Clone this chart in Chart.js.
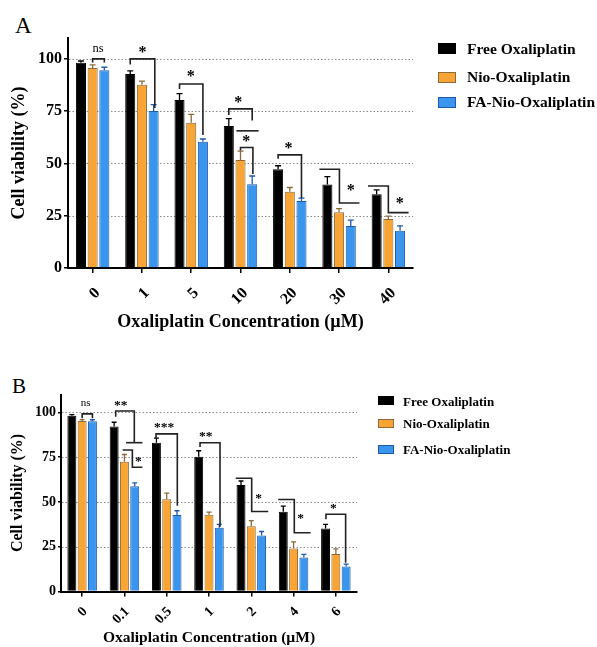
<!DOCTYPE html>
<html lang="en">
  <head>
    <meta charset="UTF-8" />
    <title>Cell viability vs Oxaliplatin</title>
    <script src="https://cdn.jsdelivr.net/npm/chart.js"></script>
    <style>
      body { margin: 0; background: #fff; }
      #wrap { position: relative; width: 597px; height: 647px; overflow: hidden; font-family: "Liberation Serif", "Times New Roman", serif; color: #000; }
      canvas { position: absolute; left: 0; }
      #chartA { top: 0; }
      #chartB { top: 360px; }
      .panel { position: absolute; line-height: 1; }
      .lg-sw { position: absolute; box-sizing: border-box; border: 1px solid; }
      .lg-tx { position: absolute; white-space: nowrap; font-weight: bold; line-height: 1; transform: translateY(-50%); }
    </style>
  </head>
  <body>
    <div id="wrap">
      <div class="panel" style="left:15px; top:14px; font-size:23px;">A</div>
      <div class="panel" style="left:12px; top:376px; font-size:21px;">B</div>
      <canvas id="chartA" width="597" height="340"></canvas>
      <canvas id="chartB" width="597" height="287"></canvas>
      <div id="legendA"></div>
      <div id="legendB"></div>
    </div>

    <script>
      // Series
      const groupLabels = ["Free Oxaliplatin", "Nio-Oxaliplatin", "FA-Nio-Oxaliplatin"];
      const fillColors = ["#000000", "#F8A535", "#3A95EE"];
      const edgeColors = ["#000000", "#8C6A3A", "#1E5AA8"];
      const yTicks = [0, 25, 50, 75, 100];

      // Panel A
      const concA = ["0", "1", "5", "10", "20", "30", "40"];
      const freeA = [98.2, 92.8, 80.4, 67.9, 47.2, 39.9, 35.3];
      const nioA = [95.6, 87.6, 69.5, 51.7, 36.5, 26.7, 23.4];
      const faA = [94.6, 75.1, 60.4, 40.0, 32.1, 20.1, 17.8];
      const freeAErr = [0.8, 1.5, 3.0, 3.5, 1.7, 3.8, 2.1];
      const nioAErr = [1.5, 1.8, 4.0, 4.2, 2.0, 1.7, 1.4];
      const faAErr = [1.4, 3.0, 1.3, 4.0, 1.3, 2.8, 2.3];

      // Panel B
      const concB = ["0", "0.1", "0.5", "1", "2", "4", "6"];
      const freeB = [98.2, 92.1, 83.1, 75.3, 59.5, 44.5, 35.2];
      const nioB = [95.2, 72.5, 51.5, 42.8, 36.4, 24.0, 20.9];
      const faB = [95.1, 58.7, 42.7, 35.6, 31.3, 19.0, 14.0];
      const freeBErr = [0.6, 2.4, 2.5, 3.3, 2.2, 3.2, 2.3];
      const nioBErr = [0.8, 4.0, 3.4, 1.5, 3.2, 3.7, 2.9];
      const faBErr = [0.8, 2.0, 2.4, 1.9, 2.2, 1.7, 1.3];

      // significance brackets: category index, [bar offset (orange = 0, blue = 1), value]
      const bracketsA = [
        { cat: 0, path: [[0, 98.3], [0, 100], [1, 100], [1, 98.3]] },
        { cat: 1, path: [[-1, 97.3], [-1, 100], [1.1, 100], [1.1, 76.5]] },
        { cat: 2, path: [[-1, 85.6], [-1, 88], [1, 88], [1, 63.6]] },
        { cat: 3, path: [[-1, 73.2], [-1, 76.1], [1, 76.1], [1, 70.6]] },
        { cat: 3, path: [[-0.35, 65.6], [1.55, 65.6]] },
        { cat: 3, path: [[0, 56.2], [0, 57.6], [1.06, 57.6], [1.06, 45]] },
        { cat: 4, path: [[-1, 52.2], [-1, 54.1], [1, 54.1], [1, 33.5]] },
        { cat: 5, path: [[-1.68, 47.2], [0.03, 47.2], [0.03, 31.1], [1.74, 31.1]] },
        { cat: 6, path: [[-1.74, 39.2], [0, 39.2], [0, 26.5], [1.73, 26.5]] },
      ];
      const starsA = [
        { cat: 0, text: "ns", at: [0.47, 104.5] },
        { cat: 1, text: "*", at: [0.05, 104.3] },
        { cat: 2, text: "*", at: [-0.05, 92.8] },
        { cat: 3, text: "*", at: [-0.2, 80.4] },
        { cat: 3, text: "*", at: [0.49, 61.9] },
        { cat: 4, text: "*", at: [-0.1, 58.5] },
        { cat: 5, text: "*", at: [0.99, 38.6] },
        { cat: 6, text: "*", at: [0.98, 32.4] },
      ];
      const bracketsB = [
        { cat: 0, path: [[0, 96.8], [0, 99.2], [1, 99.2], [1, 96.8]] },
        { cat: 1, path: [[-0.85, 97.6], [-0.85, 100.8], [0.96, 100.8], [0.96, 83.1]] },
        { cat: 1, path: [[0.16, 83.1], [1.75, 83.1]] },
        { cat: 1, path: [[-0.17, 79], [0.77, 79], [0.77, 69.4], [1.75, 69.4]] },
        { cat: 2, path: [[-1.04, 85.6], [-1.04, 88], [1.03, 88], [1.03, 47.9]] },
        { cat: 3, path: [[-0.87, 80.7], [-0.87, 83.1], [1.07, 83.1], [1.07, 36.1]] },
        { cat: 4, path: [[-1.51, 63.2], [0.04, 63.2], [0.04, 44.7], [1.65, 44.7]] },
        { cat: 5, path: [[-1.49, 51.4], [0.07, 51.4], [0.07, 32.8], [1.66, 32.8]] },
        { cat: 6, path: [[-0.96, 40.4], [-0.96, 43.1], [0.95, 43.1], [0.95, 16]] },
      ];
      const starsB = [
        { cat: 0, text: "ns", at: [0.35, 105.1] },
        { cat: 1, text: "**", at: [-0.36, 105.7] },
        { cat: 1, text: "*", at: [1.35, 74] },
        { cat: 2, text: "***", at: [-0.26, 93.4] },
        { cat: 3, text: "**", at: [-0.32, 88] },
        { cat: 4, text: "*", at: [0.72, 53.5] },
        { cat: 5, text: "*", at: [0.69, 42.1] },
        { cat: 6, text: "*", at: [-0.25, 47.7] },
      ];

      const serif = '"Liberation Serif", "Times New Roman", serif';

      // dotted gridlines, upward error bars, brackets and stars
      const marksPlugin = {
        id: "marks",
        beforeDatasetsDraw(chart) {
          const { ctx, chartArea: a, scales: { y } } = chart;
          ctx.save();
          ctx.strokeStyle = "#8a8a8a";
          ctx.lineWidth = 1;
          ctx.setLineDash([1.5, 2]);
          yTicks.filter((v) => v > 0).forEach((v) => {
            const py = Math.round(y.getPixelForValue(v)) + 0.5;
            ctx.beginPath();
            ctx.moveTo(a.left + 1, py);
            ctx.lineTo(a.right, py);
            ctx.stroke();
          });
          ctx.restore();
        },
        afterDatasetsDraw(chart, args, o) {
          const { ctx, scales: { y } } = chart;
          ctx.save();
          o.errors.forEach((errs, d) => {
            const meta = chart.getDatasetMeta(d);
            ctx.strokeStyle = edgeColors[d];
            ctx.lineWidth = 1.3;
            meta.data.forEach((bar, i) => {
              const v = chart.data.datasets[d].data[i];
              const top = y.getPixelForValue(v + errs[i]);
              ctx.beginPath();
              ctx.moveTo(bar.x, bar.y);
              ctx.lineTo(bar.x, top);
              ctx.moveTo(bar.x - o.cap / 2, top);
              ctx.lineTo(bar.x + o.cap / 2, top);
              ctx.stroke();
            });
          });

          const xAt = (i, off) => {
            const m = chart.getDatasetMeta(1).data[i];
            const n = chart.getDatasetMeta(2).data[i];
            return m.x + off * (n.x - m.x);
          };
          ctx.strokeStyle = "#222";
          ctx.lineWidth = 1.6;
          o.brackets.forEach((b) => {
            ctx.beginPath();
            b.path.forEach(([off, v], j) => {
              const px = xAt(b.cat, off);
              const py = y.getPixelForValue(v);
              j ? ctx.lineTo(px, py) : ctx.moveTo(px, py);
            });
            ctx.stroke();
          });

          ctx.fillStyle = "#000";
          ctx.textAlign = "center";
          ctx.textBaseline = "alphabetic";
          o.stars.forEach((s) => {
            const ns = s.text === "ns";
            const size = ns ? o.nsSize : o.starSize;
            ctx.font = (ns ? "" : "bold ") + size + "px " + serif;
            const px = xAt(s.cat, s.at[0]);
            const py = y.getPixelForValue(s.at[1]) + size * (ns ? 0.23 : 0.47);
            ctx.fillText(s.text, px, py);
          });
          ctx.restore();
        },
      };

      function makePanel(id, p) {
        const ctx = document.getElementById(id).getContext("2d");
        return new Chart(ctx, {
          type: "bar",
          data: {
            labels: p.labels,
            datasets: p.series.map((vals, k) => ({
              label: groupLabels[k],
              data: vals,
              backgroundColor: fillColors[k],
              borderColor: edgeColors[k],
              borderWidth: 1,
              categoryPercentage: p.catPct,
              barPercentage: p.barPct,
            })),
          },
          options: {
            responsive: false,
            animation: false,
            devicePixelRatio: 1,
            layout: { padding: p.pad },
            plugins: {
              legend: { display: false },
              tooltip: { enabled: false },
              marks: {
                errors: p.errors,
                brackets: p.brackets,
                stars: p.stars,
                cap: p.cap,
                starSize: p.starSize,
                nsSize: p.nsSize,
              },
            },
            scales: {
              x: {
                grid: { drawOnChartArea: false, offset: false, color: "#000", lineWidth: 1.5, tickLength: 5 },
                border: { color: "#000", width: 2 },
                ticks: {
                  color: "#000",
                  font: { family: serif, weight: "bold", size: p.xTickSize },
                  minRotation: 45,
                  maxRotation: 45,
                  padding: p.xTickPad,
                  labelOffset: p.xLabelOffset,
                },
                title: {
                  display: true,
                  text: "Oxaliplatin Concentration (µM)",
                  color: "#000",
                  font: { family: serif, weight: "bold", size: p.xTitleSize },
                  padding: { top: 0, bottom: p.xTitlePad },
                },
                afterFit: (s) => { s.height = p.xH; },
              },
              y: {
                min: 0,
                max: 110,
                afterBuildTicks: (s) => { s.ticks = yTicks.map((v) => ({ value: v })); },
                grid: { drawOnChartArea: false, color: "#000", lineWidth: 1.5, tickLength: p.yTickLen },
                border: { color: "#000", width: 2 },
                ticks: {
                  color: "#000",
                  font: { family: serif, weight: "bold", size: p.yTickSize },
                  padding: 2,
                },
                title: {
                  display: true,
                  text: "Cell viability (%)",
                  color: "#000",
                  font: { family: serif, weight: "bold", size: p.yTitleSize },
                  padding: { top: p.yTitlePad, bottom: 0 },
                },
                afterFit: (s) => { s.width = p.yW; },
              },
            },
          },
          plugins: [marksPlugin],
        });
      }

      function makeLegend(id, l) {
        const box = document.getElementById(id);
        groupLabels.forEach((name, k) => {
          const sw = document.createElement("div");
          sw.className = "lg-sw";
          sw.style.cssText = `left:${l.x}px; top:${l.rows[k] - l.h / 2}px; width:${l.w}px; height:${l.h}px; background:${fillColors[k]}; border-color:${edgeColors[k]};`;
          const tx = document.createElement("div");
          tx.className = "lg-tx";
          tx.textContent = name;
          tx.style.cssText = `left:${l.tx}px; top:${l.rows[k]}px; font-size:${l.size}px;`;
          box.appendChild(sw);
          box.appendChild(tx);
        });
      }

      makePanel("chartA", {
        labels: concA,
        series: [freeA, nioA, faA],
        errors: [freeAErr, nioAErr, faAErr],
        brackets: bracketsA,
        stars: starsA,
        catPct: 0.712,
        barPct: 0.86,
        pad: { left: 0, right: 184, top: 38, bottom: 0 },
        yW: 68,
        xH: 72,
        xTickSize: 16,
        xTickPad: 11,
        xLabelOffset: 5,
        yTickSize: 16,
        yTickLen: 4,
        xTitleSize: 18,
        xTitlePad: 7,
        yTitleSize: 18,
        yTitlePad: 9,
        cap: 6,
        starSize: 16,
        nsSize: 12.5,
      });

      makePanel("chartB", {
        labels: concB,
        series: [freeB, nioB, faB],
        errors: [freeBErr, nioBErr, faBErr],
        brackets: bracketsB,
        stars: starsB,
        catPct: 0.73,
        barPct: 0.87,
        pad: { left: 0, right: 240, top: 34.5, bottom: 0 },
        yW: 61,
        xH: 55.5,
        xTickSize: 14,
        xTickPad: 7,
        xLabelOffset: 3,
        yTickSize: 14,
        yTickLen: 3,
        xTitleSize: 15.5,
        xTitlePad: 0,
        yTitleSize: 16,
        yTitlePad: 8,
        cap: 5,
        starSize: 13.5,
        nsSize: 11,
      });

      makeLegend("legendA", { x: 438, w: 18, h: 11, rows: [48.5, 77, 102], tx: 467, size: 15.5 });
      makeLegend("legendB", { x: 378, w: 16, h: 9, rows: [400.5, 423, 449.3], tx: 403, size: 13 });
    </script>
  </body>
</html>
